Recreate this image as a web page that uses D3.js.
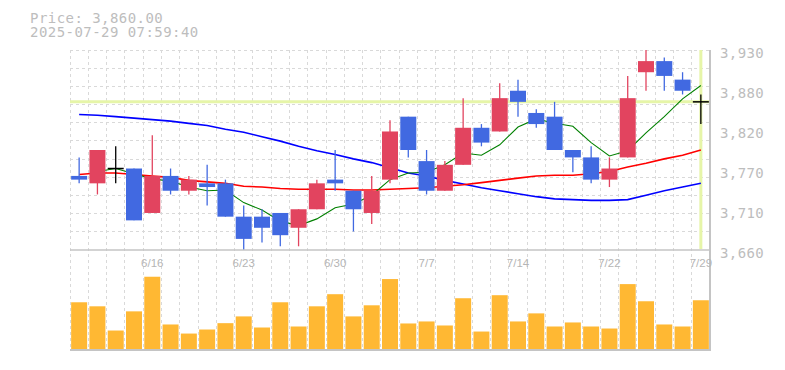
<!DOCTYPE html>
<html>
<head>
<meta charset="utf-8">
<script src="https://cdn.jsdelivr.net/npm/d3@7"></script>
<style>
  body { margin: 0; background: #fff; }
  svg { display: block; }
</style>
</head>
<body>
<svg id="chart" width="785" height="370"></svg>
<script>
var dates = ['6/10','6/11','6/12','6/13','6/16','6/17','6/18','6/19','6/20','6/23','6/24','6/25','6/26','6/27','6/30',
  '7/1','7/2','7/3','7/4','7/7','7/8','7/9','7/10','7/11','7/14','7/15','7/16','7/17','7/18','7/22','7/23','7/24','7/25','7/28','7/29'];
var open  = [3760,3750,3770,3770,3710,3760,3740,3750,3750,3705,3705,3710,3690,3715,3755,3740,3710,3755,3840,3780,3740,3775,3825,3820,3875,3845,3840,3795,3785,3755,3785,3900,3915,3890,3860];
var high  = [3785,3795,3800,3770,3815,3770,3760,3775,3755,3720,3715,3710,3715,3755,3795,3740,3760,3835,3840,3795,3780,3865,3830,3885,3890,3850,3860,3795,3800,3785,3895,3930,3920,3900,3870];
var low   = [3750,3735,3750,3700,3710,3735,3735,3720,3705,3660,3670,3665,3665,3715,3740,3685,3695,3750,3785,3735,3740,3775,3800,3820,3840,3825,3795,3765,3750,3745,3785,3875,3875,3870,3830];
var close = [3755,3795,3770,3700,3760,3740,3755,3745,3705,3675,3690,3680,3715,3750,3750,3715,3740,3820,3795,3740,3775,3825,3805,3865,3860,3830,3795,3785,3755,3770,3865,3915,3895,3875,3860];
var volume = [46300,42300,18300,37300,71600,24300,15300,19300,25600,32300,21300,46300,22300,42300,54300,32300,43300,69300,
  25300,27300,23300,50300,17300,53300,27300,35300,22300,26300,22300,20300,64300,47300,24300,22300,48300];
var ma5  = [null,3766,3770,3763,3756,3753,3745,3740,3741,3724,3714,3699,3693,3702,3717,3722,3734,3755,3764,3765,3775,3791,3788,3802,3826,3837,3831,3827,3805,3787,3794,3818,3840,3864,3882];
var ma25 = [3762,3764,3764,3762,3760,3758,3754,3752,3750,3746,3745,3743,3742,3742,3742,3741,3741,3742,3743,3744,3746,3748,3751,3754,3757,3760,3761,3761,3763,3766,3772,3777,3783,3788,3795];
var ma75 = [3843,3842,3840,3838,3836,3834,3831,3828,3823,3819,3813,3807,3800,3794,3789,3783,3778,3771,3764,3760,3754,3749,3744,3740,3736,3732,3729,3728,3727,3727,3728,3734,3740,3745,3750];
var priceTicks = [3930,3876,3822,3768,3714,3660];
var priceLabels = ['3,930','3,880','3,820','3,770','3,710','3,660'];
var dateTicks = ['6/16','6/23','6/30','7/7','7/14','7/22','7/29'];
var lastPrice = 3860;
var stamp = '2025-07-29 07:59:40';

var svg = d3.select('#chart');
var plotLeft = 70, plotRight = 710, plotTop = 50, plotMid = 250, plotBottom = 349;
var mono = "'DejaVu Sans Mono', monospace";

var x = d3.scaleBand().domain(dates).range([plotLeft, plotRight]).paddingInner(0.125).paddingOuter(0.0625);
var y = d3.scaleLinear().domain([3660, 3930]).range([plotMid, plotTop]);
var yv = d3.scaleLinear().domain([0, d3.max(volume) * 1.37]).range([plotBottom, plotMid]);
var step = x.step();
var bw = x.bandwidth();
function cx(d) { return x(d) + bw / 2; }

// grid
var grid = svg.append('g').attr('stroke', '#d9d9d9').attr('stroke-dasharray', '3,3').attr('shape-rendering', 'crispEdges');
grid.selectAll('line.h')
  .data(d3.range(11))
  .enter().append('line')
  .attr('class', 'h')
  .attr('x1', plotLeft).attr('x2', plotRight)
  .attr('y1', function(k) { return y(3660 + (11 - k) * 270 / 11); })
  .attr('y2', function(k) { return y(3660 + (11 - k) * 270 / 11); });
grid.selectAll('line.v')
  .data(d3.range(35))
  .enter().append('line')
  .attr('class', 'v')
  .attr('x1', function(i) { return plotLeft + i * step; })
  .attr('x2', function(i) { return plotLeft + i * step; })
  .attr('y1', plotTop).attr('y2', plotBottom);

// current price marker
svg.append('line')
  .attr('x1', plotLeft).attr('x2', plotRight)
  .attr('y1', y(lastPrice)).attr('y2', y(lastPrice))
  .attr('stroke', '#e6f5a8').attr('stroke-width', 3);
svg.append('line')
  .attr('x1', cx(dates[dates.length - 1])).attr('x2', cx(dates[dates.length - 1]))
  .attr('y1', plotTop).attr('y2', plotMid - 1)
  .attr('stroke', '#e6f5a8').attr('stroke-width', 3);

// moving averages
function maLine(values) {
  return d3.line()
    .defined(function(d, i) { return values[i] != null; })
    .x(function(d) { return cx(d); })
    .y(function(d, i) { return y(values[i]); })(dates);
}
[[ma75, '#0000ff', 1.6], [ma25, '#ff0000', 1.6], [ma5, '#008000', 1.1]].forEach(function(m) {
  svg.append('path')
    .attr('d', maLine(m[0]))
    .attr('fill', 'none')
    .attr('stroke', m[1])
    .attr('stroke-width', m[2]);
});

// candles
function candleColor(i) {
  if (close[i] > open[i]) return '#e2445f';
  if (close[i] < open[i]) return '#4169e1';
  return '#000';
}
var candles = svg.append('g').selectAll('g')
  .data(dates)
  .enter().append('g');
candles.append('line')
  .attr('x1', cx).attr('x2', cx)
  .attr('y1', function(d, i) { return y(high[i]); })
  .attr('y2', function(d, i) { return y(low[i]); })
  .attr('stroke', function(d, i) { return candleColor(i); })
  .attr('stroke-width', 1.3);
candles.filter(function(d, i) { return open[i] !== close[i]; })
  .append('rect')
  .attr('x', function(d) { return x(d); })
  .attr('width', bw)
  .attr('y', function(d) { var i = dates.indexOf(d); return y(Math.max(open[i], close[i])); })
  .attr('height', function(d) { var i = dates.indexOf(d); return Math.abs(y(open[i]) - y(close[i])); })
  .attr('fill', function(d) { return candleColor(dates.indexOf(d)); });
candles.filter(function(d, i) { return open[i] === close[i]; })
  .append('line')
  .attr('x1', function(d) { return x(d); })
  .attr('x2', function(d) { return x(d) + bw; })
  .attr('y1', function(d) { return y(open[dates.indexOf(d)]); })
  .attr('y2', function(d) { return y(open[dates.indexOf(d)]); })
  .attr('stroke', '#000')
  .attr('stroke-width', 1.5);

// volume
svg.append('g').selectAll('rect')
  .data(dates)
  .enter().append('rect')
  .attr('x', function(d) { return x(d); })
  .attr('width', bw)
  .attr('y', function(d, i) { return yv(volume[i]); })
  .attr('height', function(d, i) { return yv(0) - yv(volume[i]); })
  .attr('fill', '#ffb833');

// frame
svg.append('line').attr('x1', plotLeft).attr('x2', plotRight).attr('y1', plotMid).attr('y2', plotMid)
  .attr('stroke', '#c4c4c4').attr('stroke-width', 1.5);
svg.append('line').attr('x1', plotLeft).attr('x2', plotRight + 1).attr('y1', plotBottom + 1).attr('y2', plotBottom + 1)
  .attr('stroke', '#c4c4c4').attr('stroke-width', 2);
svg.append('line').attr('x1', plotRight).attr('x2', plotRight).attr('y1', plotTop).attr('y2', plotBottom + 2)
  .attr('stroke', '#c4c4c4').attr('stroke-width', 2);

// price labels
svg.append('g').selectAll('text')
  .data(priceTicks)
  .enter().append('text')
  .attr('x', 720)
  .attr('y', function(d) { return y(d) + 8.3; })
  .attr('font-family', mono).attr('font-size', '14px').attr('letter-spacing', '0.4px')
  .attr('fill', '#bdbdbd')
  .text(function(d, i) { return priceLabels[i]; });

// date labels
svg.append('g').selectAll('text')
  .data(dateTicks)
  .enter().append('text')
  .attr('x', cx)
  .attr('y', 266.5)
  .attr('text-anchor', 'middle')
  .attr('font-family', "'Liberation Sans', Arial, sans-serif").attr('font-size', '11.5px')
  .attr('fill', '#b5b5b5')
  .text(function(d) { return d; });

// header
svg.append('text').attr('x', 30).attr('y', 22.5)
  .attr('font-family', mono).attr('font-size', '14px').attr('letter-spacing', '0.45px')
  .attr('fill', '#bdbdbd')
  .text('Price: ' + d3.format(',.2f')(lastPrice));
svg.append('text').attr('x', 30).attr('y', 37)
  .attr('font-family', mono).attr('font-size', '14px').attr('letter-spacing', '0.45px')
  .attr('fill', '#bdbdbd')
  .text(stamp);
</script>
</body>
</html>
